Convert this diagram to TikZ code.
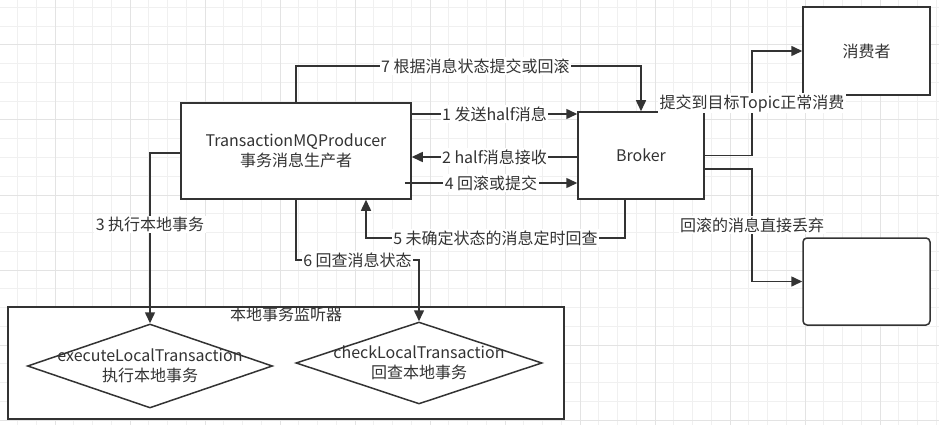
\documentclass[tikz,border=0pt]{standalone}
\usepackage{fontspec}
\setmainfont{Noto Sans CJK SC}
\usetikzlibrary{arrows.meta,shapes.geometric}

\definecolor{linegray}{HTML}{333333}
\definecolor{textgray}{HTML}{333333}
\definecolor{gridminor}{HTML}{F0F0F0}
\definecolor{gridmajor}{HTML}{E3E3E3}

\tikzset{
  box/.style={draw=linegray, line width=1.5pt, fill=white, text=textgray, align=center, inner sep=0pt},
  decision/.style={diamond, draw=linegray, line width=1.5pt, fill=white, inner sep=0pt},
  lbl/.style={fill=white, text=textgray, inner sep=1.5pt},
  flow/.style={draw=linegray, line width=1.5pt, -{Triangle[length=11pt,width=10pt]}},
}

\begin{document}
\begin{tikzpicture}[x=1pt,y=-1pt,font=\fontsize{16}{19.5}\selectfont]
            \useasboundingbox[fill=white] (0,0) rectangle (939,425);
            % grid
            \foreach \gx in {0,...,50} {\draw[gridminor,line width=1pt] ({-1.25+18.75*\gx},0) -- ++(0,425);}
            \foreach \gy in {0,...,23} {\draw[gridminor,line width=1pt] (0,{-11.25+18.75*\gy}) -- ++(939,0);}
            \foreach \gx in {55,130,...,955} {\draw[gridmajor,line width=1pt] (\gx,0) -- ++(0,425);}
            \foreach \gy in {45,120,...,425} {\draw[gridmajor,line width=1pt] (0,\gy) -- ++(939,0);}

            \node[box, minimum width=230pt, minimum height=96pt] at (296,151) (prod) {TransactionMQProducer\\事务消息生产者};
            \node[box, minimum width=126pt, minimum height=87pt] at (641,155.5) (broker) {Broker};
            \node[box, minimum width=127pt, minimum height=88pt] at (866.5,51) (cons) {消费者};
            \node[box, minimum width=127pt, minimum height=87pt, rounded corners=4pt] at (866.5,281.5) (disc) {};
            \node[box, minimum width=556pt, minimum height=112pt] at (286,363) (listener) {};
            \node[text=textgray, anchor=north, inner sep=1pt] at (listener.north) (listenertitle) {本地事务监听器};
            \node[decision, minimum width=245pt, minimum height=84pt] at (150,366) (exec) {};
            \node[text=textgray, align=center] at (exec) (exectext) {executeLocalTransaction\\执行本地事务};
            \node[decision, minimum width=246pt, minimum height=82pt] at (419,363) (check) {};
            \node[text=textgray, align=center] at (check) (checktext) {checkLocalTransaction\\回查本地事务};

            \coordinate (top7) at (0,66);
            \coordinate (r1) at (0,114);
            \coordinate (r2) at (0,157);
            \coordinate (r3) at (0,153);
            \coordinate (r4) at (0,183);
            \coordinate (r5) at (0,238);
            \coordinate (r6) at (0,260);
            \coordinate (rd) at (0,169);
            \coordinate (xsplit) at (752,0);

            \draw[flow] (prod.north) -- (prod.north |- top7) -- node[lbl, pos=0.52] {7 根据消息状态提交或回滚} (broker.north |- top7) -- (broker.north);
            \draw[flow] (prod.east |- r1) -- node[lbl] {1 发送half消息} (broker.west |- r1);
            \draw[flow] (broker.west |- r2) -- node[lbl] {2 half消息接收} (prod.east |- r2);
            \draw[flow] ([xshift=-7pt]prod.east |- r4) -- node[lbl] {4 回滚或提交} (broker.west |- r4);
            \draw[flow] ([xshift=-16pt]broker.south) |- node[lbl, pos=0.75] {5 未确定状态的消息定时回查} ([xshift=70pt]prod.south |- r5) -- ([xshift=70pt]prod.south);
            \draw[flow] (prod.west |- r3) -| node[lbl, pos=0.71] {3 执行本地事务} (exec.north);
            \draw[flow] (prod.south) |- node[lbl, pos=0.75] {6 回查消息状态} (check.north |- r6) -- (check.north);
            \draw[flow] (broker.east) -- (xsplit |- broker.east) -- node[lbl] {提交到目标Topic正常消费} (xsplit |- cons.west) -- (cons.west);
            \draw[flow] (broker.east |- rd) -- (xsplit |- rd) -- node[lbl] {回滚的消息直接丢弃} (xsplit |- disc.west) -- (disc.west);
        \end{tikzpicture}
\end{document}
